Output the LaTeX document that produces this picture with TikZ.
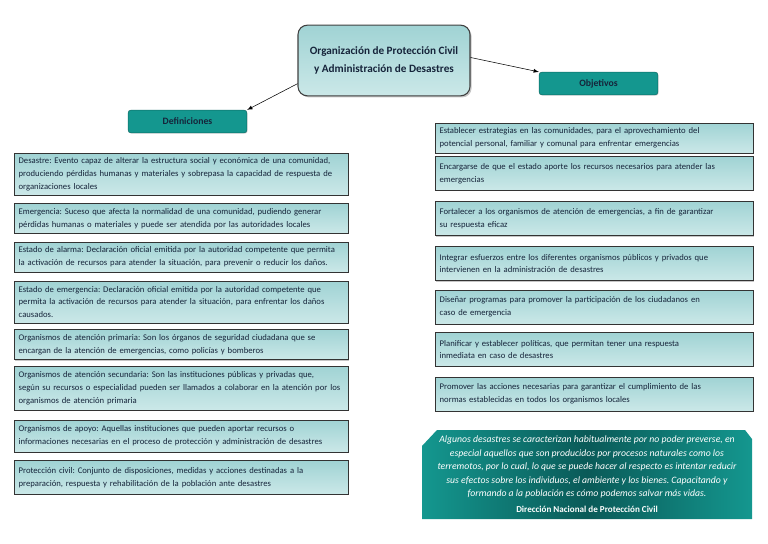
\documentclass[tikz,border=0pt]{standalone}
\usepackage{fontspec}
\setmainfont{Carlito}
\frenchspacing
\usetikzlibrary{shadows}
\definecolor{tealbox}{HTML}{A0D3D4}
\definecolor{tealpale}{HTML}{CBE8E8}
\definecolor{tealhead}{HTML}{14978F}
\definecolor{tealdeep}{HTML}{0A5A58}
\definecolor{inktext}{HTML}{16243A}
\tikzset{
  defbox/.style={draw=black!80, line width=0.7pt, top color=tealbox, bottom color=tealpale,
    drop shadow={shadow xshift=0.8pt, shadow yshift=-0.8pt, opacity=0.45},
    text=inktext, align=left, inner xsep=3.5pt, inner ysep=2pt,
    font=\fontsize{6.5}{9.6}\selectfont},
  leftbox/.style={defbox, text width=243.5pt},
  rightbox/.style={defbox, text width=231.5pt},
  headbox/.style={draw=tealhead!70!black, fill=tealhead, rounded corners=2pt, text=inktext,
    minimum width=89pt, minimum height=17pt, font=\fontsize{7.3}{8}\selectfont\bfseries,
    drop shadow={shadow xshift=0.6pt, shadow yshift=-0.6pt, opacity=0.3}},
}
\begin{document}
\begin{tikzpicture}[x=0.75pt, y=-0.75pt]
  \useasboundingbox (0,0) rectangle (768,543);
  % title and the two headings
  \node[draw=black!75, line width=0.8pt, rounded corners=7pt, top color=tealbox, bottom color=tealpale,
    drop shadow={shadow xshift=1.2pt, shadow yshift=-1.2pt, opacity=0.45},
    minimum width=129pt, minimum height=53pt, align=center, text=inktext,
    font=\fontsize{8.4}{13.5}\selectfont\bfseries] (title) at (384,60.5)
    {Organización de Protección Civil\\y Administración de Desastres};
  \node[headbox] (defs) at (187.5,121.5) {Definiciones};
  \node[headbox] (objs) at (598.5,83.5) {Objetivos};
  \draw[-latex, thin] (title.195) -- (defs.north east);
  \draw[-latex, thin] (title.2) -- (objs.north west);
  % definiciones
  \node[leftbox, minimum height=31.5pt] (d1) at (181,174) {Desastre: Evento capaz de alterar la estructura social y económica de una comunidad,\\
    produciendo pérdidas humanas y materiales y sobrepasa la capacidad de respuesta de\\organizaciones locales};
  \node[leftbox, minimum height=22pt] (d2) at (181,218.5) {Emergencia: Suceso que afecta la normalidad de una comunidad, pudiendo generar\\
    pérdidas humanas o materiales y puede ser atendida por las autoridades locales};
  \node[leftbox, minimum height=22.5pt] (d3) at (181,257) {Estado de alarma: Declaración oficial emitida por la autoridad competente que permita\\
    la activación de recursos para atender la situación, para prevenir o reducir los daños.};
  \node[leftbox, minimum height=31.5pt] (d4) at (181,302) {Estado de emergencia: Declaración oficial emitida por la autoridad competente que\\
    permita la activación de recursos para atender la situación, para enfrentar los daños\\causados.};
  \node[leftbox, minimum height=23pt] (d5) at (181,344.5) {Organismos de atención primaria: Son los órganos de seguridad ciudadana que se\\
    encargan de la atención de emergencias, como policías y bomberos};
  \node[leftbox, minimum height=33pt] (d6) at (181,388) {Organismos de atención secundaria: Son las instituciones públicas y privadas que,\\
    según su recursos o especialidad pueden ser llamados a colaborar en la atención por los\\organismos de atención primaria};
  \node[leftbox, minimum height=24pt] (d7) at (181,436) {Organismos de apoyo: Aquellas instituciones que pueden aportar recursos o\\
    informaciones necesarias en el proceso de protección y administración de desastres};
  \node[leftbox, minimum height=25pt] (d8) at (181,477.5) {Protección civil: Conjunto de disposiciones, medidas y acciones destinadas a la\\
    preparación, respuesta y rehabilitación de la población ante desastres};
  % objetivos
  \node[rightbox, minimum height=22.5pt] (o1) at (594,138) {Establecer estrategias en las comunidades, para el aprovechamiento del\\
    potencial personal, familiar y comunal para enfrentar emergencias};
  \node[rightbox, minimum height=25pt] (o2) at (594,173.5) {Encargarse de que el estado aporte los recursos necesarios para atender las\\emergencias};
  \node[rightbox, minimum height=26pt] (o3) at (594,218.5) {Fortalecer a los organismos de atención de emergencias, a fin de garantizar\\su respuesta eficaz};
  \node[rightbox, minimum height=26pt] (o4) at (594,263.5) {Integrar esfuerzos entre los diferentes organismos públicos y privados que\\
    intervienen en la administración de desastres};
  \node[rightbox, minimum height=25.5pt] (o5) at (594,307) {Diseñar programas para promover la participación de los ciudadanos en\\caso de emergencia};
  \node[rightbox, minimum height=25pt] (o6) at (594,349.5) {Planificar y establecer políticas, que permitan tener una respuesta\\inmediata en caso de desastres};
  \node[rightbox, minimum height=25.5pt] (o7) at (594,394) {Promover las acciones necesarias para garantizar el cumplimiento de las\\
    normas establecidas en todos los organismos locales};
  % cita
  \shade[left color=tealhead, right color=tealhead, middle color=tealdeep]
    (422,446) -- (437,430) -- (745,430) -- (752,439) -- (752,519) -- (422,519) -- cycle;
  \node[text=white, align=center, font=\fontsize{7.3}{10.1}\selectfont\itshape] (cita) at (587,467)
    {Algunos desastres se caracterizan habitualmente por no poder preverse, en\\
     especial aquellos que son producidos por procesos naturales como los\\
     terremotos, por lo cual, lo que se puede hacer al respecto es intentar reducir\\
     sus efectos sobre los individuos, el ambiente y los bienes. Capacitando y\\
     formando a la población es cómo podemos salvar más vidas.};
  \node[text=white, font=\fontsize{6.8}{8}\selectfont\bfseries] (fuente) at (587,509)
    {Dirección Nacional de Protección Civil};
\end{tikzpicture}
\end{document}
